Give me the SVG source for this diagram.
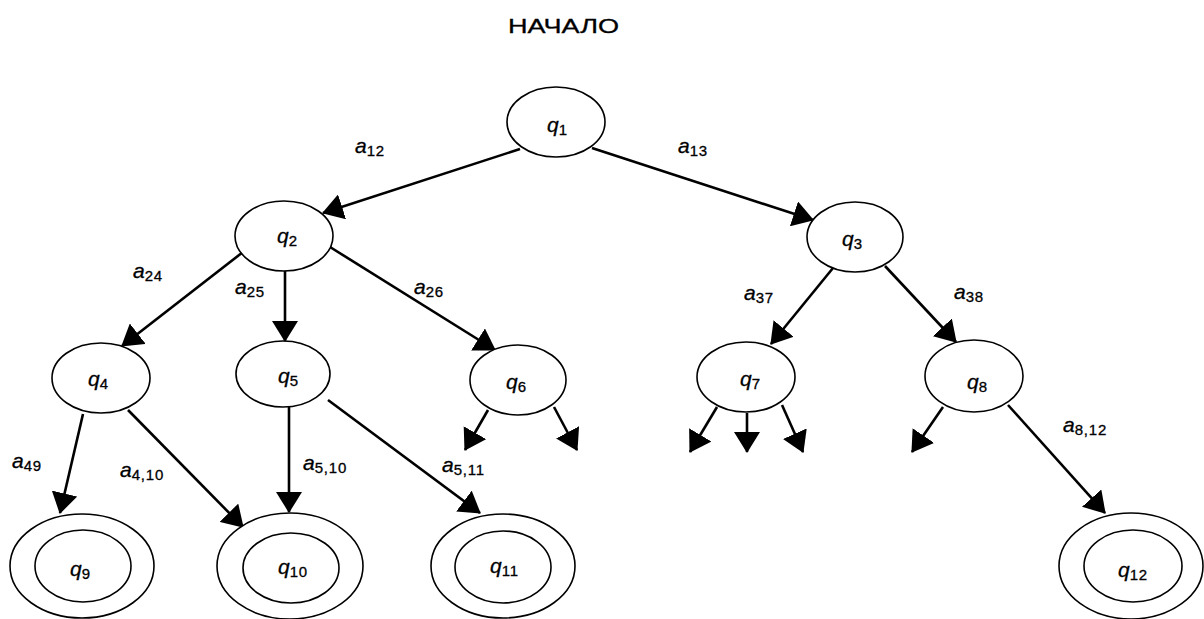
<svg xmlns="http://www.w3.org/2000/svg" width="1204" height="619" viewBox="0 0 1204 619">
<style>
.n{fill:#fff;stroke:#000;stroke-width:1.6}
.e{stroke:#000;stroke-width:2.6;fill:none;marker-end:url(#ah)}
.t{font-family:"Liberation Sans",Arial,sans-serif;font-size:21px;font-style:italic;fill:#000;stroke:#000;stroke-width:0.3}
.s{font-size:15px;font-style:normal;letter-spacing:0.8px}
.h{font-family:"Liberation Sans",Arial,sans-serif;font-size:20px;fill:#000;stroke:#000;stroke-width:0.3}
</style>
<defs>
<marker id="ah" viewBox="0 0 21 26" refX="20" refY="13" markerWidth="21" markerHeight="26" markerUnits="userSpaceOnUse" orient="auto">
<path d="M0,0 L21,13 L0,26 Z" fill="#000"/>
</marker>
</defs>
<rect width="1204" height="619" fill="#fff"/>
<text class="h" x="508" y="33" textLength="111" lengthAdjust="spacingAndGlyphs">НАЧАЛО</text>

<g id="connectors">
<line class="e" x1="520" y1="149" x2="323" y2="213"/>
<line class="e" x1="592" y1="148" x2="813" y2="220"/>
<line class="e" x1="243" y1="252" x2="122" y2="346"/>
<line class="e" x1="285" y1="271" x2="285" y2="341"/>
<line class="e" x1="330" y1="247" x2="495" y2="350"/>
<line class="e" x1="833" y1="268" x2="771" y2="344"/>
<line class="e" x1="885" y1="266" x2="956" y2="342"/>
<line class="e" x1="83" y1="414" x2="60" y2="513"/>
<line class="e" x1="128" y1="410" x2="243" y2="527"/>
<line class="e" x1="289" y1="406" x2="289" y2="512"/>
<line class="e" x1="328" y1="400" x2="480" y2="513"/>
<line class="e" x1="1008" y1="405" x2="1105" y2="513"/>
<line class="e" x1="488" y1="410" x2="465" y2="450"/>
<line class="e" x1="554" y1="407" x2="577" y2="450"/>
<line class="e" x1="717" y1="407" x2="690" y2="452"/>
<line class="e" x1="747" y1="413" x2="747" y2="452"/>
<line class="e" x1="782" y1="405" x2="803" y2="452"/>
<line class="e" x1="943" y1="407" x2="912" y2="452"/>
<text class="t" x="355" y="153">a<tspan class="s" dy="3">12</tspan></text>
<text class="t" x="678" y="153">a<tspan class="s" dy="3">13</tspan></text>
<text class="t" x="133" y="278">a<tspan class="s" dy="3">24</tspan></text>
<text class="t" x="235" y="294">a<tspan class="s" dy="3">25</tspan></text>
<text class="t" x="414" y="294">a<tspan class="s" dy="3">26</tspan></text>
<text class="t" x="744" y="300">a<tspan class="s" dy="3">37</tspan></text>
<text class="t" x="954" y="299">a<tspan class="s" dy="3">38</tspan></text>
<text class="t" x="12" y="468">a<tspan class="s" dy="3">49</tspan></text>
<text class="t" x="120" y="477">a<tspan class="s" dy="3">4,10</tspan></text>
<text class="t" x="303" y="470">a<tspan class="s" dy="3">5,10</tspan></text>
<text class="t" x="442" y="472">a<tspan class="s" dy="3">5,11</tspan></text>
<text class="t" x="1063" y="432">a<tspan class="s" dy="3">8,12</tspan></text>
</g>

<g id="q1"><ellipse class="n" cx="556" cy="122" rx="49" ry="35"/><text class="t" x="547" y="132">q<tspan class="s" dy="3">1</tspan></text></g>
<g id="q2"><ellipse class="n" cx="284" cy="236" rx="49" ry="35"/><text class="t" x="277" y="243">q<tspan class="s" dy="3">2</tspan></text></g>
<g id="q3"><ellipse class="n" cx="855" cy="237" rx="48" ry="35"/><text class="t" x="842" y="246">q<tspan class="s" dy="3">3</tspan></text></g>
<g id="q4"><ellipse class="n" cx="101" cy="378" rx="49" ry="35"/><text class="t" x="88" y="386">q<tspan class="s" dy="3">4</tspan></text></g>
<g id="q5"><ellipse class="n" cx="283" cy="374" rx="47" ry="33"/><text class="t" x="278" y="383">q<tspan class="s" dy="3">5</tspan></text></g>
<g id="q6"><ellipse class="n" cx="518" cy="380" rx="48" ry="35"/><text class="t" x="506" y="389">q<tspan class="s" dy="3">6</tspan></text></g>
<g id="q7"><ellipse class="n" cx="746" cy="377" rx="49" ry="35"/><text class="t" x="740" y="386">q<tspan class="s" dy="3">7</tspan></text></g>
<g id="q8"><ellipse class="n" cx="974" cy="376" rx="49" ry="36"/><text class="t" x="967" y="389">q<tspan class="s" dy="3">8</tspan></text></g>
<g id="q9"><ellipse class="n" cx="82" cy="566" rx="72" ry="52"/><ellipse class="n" cx="83" cy="566" rx="48" ry="36"/><text class="t" x="70" y="576">q<tspan class="s" dy="3">9</tspan></text></g>
<g id="q10"><ellipse class="n" cx="290" cy="566" rx="73" ry="53"/><ellipse class="n" cx="291" cy="568" rx="48" ry="35"/><text class="t" x="278" y="574">q<tspan class="s" dy="3">10</tspan></text></g>
<g id="q11"><ellipse class="n" cx="503" cy="566" rx="72" ry="52"/><ellipse class="n" cx="503" cy="567" rx="48" ry="36"/><text class="t" x="490" y="573">q<tspan class="s" dy="3">11</tspan></text></g>
<g id="q12"><ellipse class="n" cx="1131" cy="566" rx="72" ry="53"/><ellipse class="n" cx="1133" cy="566" rx="49" ry="36"/><text class="t" x="1118" y="577">q<tspan class="s" dy="3">12</tspan></text></g>
</svg>
